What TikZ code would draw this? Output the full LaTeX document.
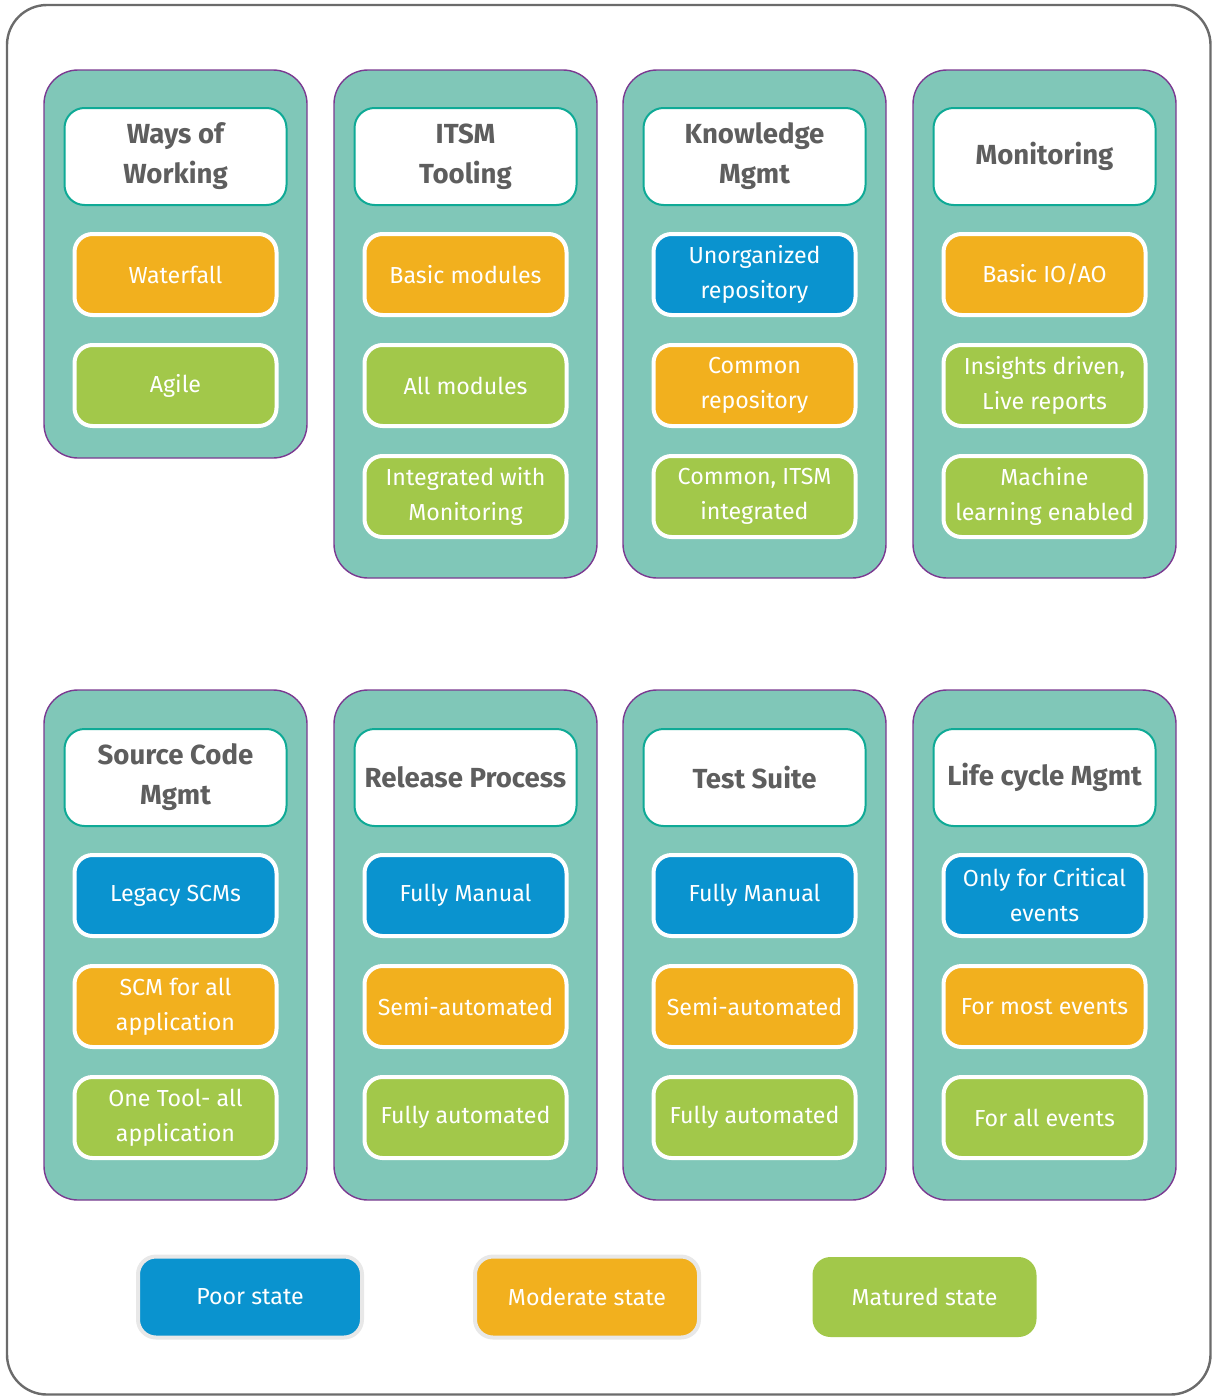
\documentclass[tikz,border=0pt]{standalone}
\usepackage{fontspec}
\setmainfont{Fira Sans}
\usetikzlibrary{positioning}

\definecolor{panelfill}{HTML}{80C7B8}
\definecolor{paneldraw}{HTML}{7B3A91}
\definecolor{headdraw}{HTML}{0FAA96}
\definecolor{headtext}{HTML}{5E5E5E}
\definecolor{poor}{HTML}{0A93CF}
\definecolor{moderate}{HTML}{F2B01E}
\definecolor{matured}{HTML}{A2C84A}
\definecolor{framegray}{HTML}{6B6B6B}
\definecolor{legendrim}{HTML}{E8E8E8}

\begin{document}
\begin{tikzpicture}[x=0.5pt,y=-0.5pt,node distance=13pt,
  panel/.style={draw=paneldraw,fill=panelfill,line width=0.7pt,rounded corners=17pt,minimum width=131.5pt},
  head/.style={draw=headdraw,fill=white,line width=1pt,rounded corners=10pt,minimum width=111pt,minimum height=48.5pt,
    align=center,text=headtext,font=\bfseries\fontsize{13.8}{20}\selectfont},
  item/.style={draw=white,line width=2pt,rounded corners=9pt,minimum width=101pt,minimum height=40.5pt,
    align=center,text=white,font=\fontsize{11.6}{17.5}\selectfont},
  poorbox/.style={item,fill=poor},
  modbox/.style={item,fill=moderate},
  matbox/.style={item,fill=matured}]
\useasboundingbox (0,0) rectangle (1213,1397);
\draw[framegray,line width=1.2pt,rounded corners=20pt] (7,5) rectangle (1210.5,1394.5);

% top row
\node[panel,minimum height=194pt] (p1) at (175.5,264) {};
\node[panel,minimum height=254pt] (p2) at (465.5,324) {};
\node[panel,minimum height=254pt] (p3) at (754.5,324) {};
\node[panel,minimum height=254pt] (p4) at (1044.5,324) {};

\node[head] (wow) at (175.5,156.5) {Ways of\\Working};
\node[modbox] (waterfall) [below=of wow] {Waterfall};
\node[matbox] (agile) [below=of waterfall] {Agile};

\node[head] (itsm) at (465.5,156.5) {ITSM\\Tooling};
\node[modbox] (basicmod) [below=of itsm] {Basic modules};
\node[matbox] (allmod) [below=of basicmod] {All modules};
\node[matbox] (intmon) [below=of allmod] {Integrated with\\Monitoring};

\node[head] (km) at (754.5,156.5) {Knowledge\\Mgmt};
\node[poorbox] (unorg) [below=of km] {Unorganized\\repository};
\node[modbox] (common) [below=of unorg] {Common\\repository};
\node[matbox] (commonint) [below=of common] {Common, ITSM\\integrated};

\node[head] (mon) at (1044.5,156.5) {Monitoring};
\node[modbox] (basicio) [below=of mon] {Basic IO/AO};
\node[matbox] (insights) [below=of basicio] {Insights driven,\\Live reports};
\node[matbox] (ml) [below=of insights] {Machine\\learning enabled};

% bottom row
\node[panel,minimum height=255pt] (p5) at (175.5,945) {};
\node[panel,minimum height=255pt] (p6) at (465.5,945) {};
\node[panel,minimum height=255pt] (p7) at (754.5,945) {};
\node[panel,minimum height=255pt] (p8) at (1044.5,945) {};

\node[head] (scm) at (175.5,777.5) {Source Code\\Mgmt};
\node[poorbox] (legacy) [below=of scm] {Legacy SCMs};
\node[modbox] (scmall) [below=of legacy] {SCM for all\\application};
\node[matbox] (onetool) [below=of scmall] {One Tool- all\\application};

\node[head] (rel) at (465.5,777.5) {Release Process};
\node[poorbox] (relman) [below=of rel] {Fully Manual};
\node[modbox] (relsemi) [below=of relman] {Semi-automated};
\node[matbox] (relauto) [below=of relsemi] {Fully automated};

\node[head] (test) at (754.5,777.5) {Test Suite};
\node[poorbox] (testman) [below=of test] {Fully Manual};
\node[modbox] (testsemi) [below=of testman] {Semi-automated};
\node[matbox] (testauto) [below=of testsemi] {Fully automated};

\node[head] (lcm) at (1044.5,777.5) {Life cycle Mgmt};
\node[poorbox] (critical) [below=of lcm] {Only for Critical\\events};
\node[modbox] (most) [below=of critical] {For most events};
\node[matbox] (all) [below=of most] {For all events};

% legend
\node[poorbox,draw=legendrim,minimum width=112pt] (lpoor) at (250,1297) {Poor state};
\node[modbox,draw=legendrim,minimum width=112pt] (lmod) at (587,1297) {Moderate state};
\node[matbox,draw=none,minimum width=112pt,minimum height=40pt] (lmat) at (924.5,1297) {Matured state};
\end{tikzpicture}
\end{document}
